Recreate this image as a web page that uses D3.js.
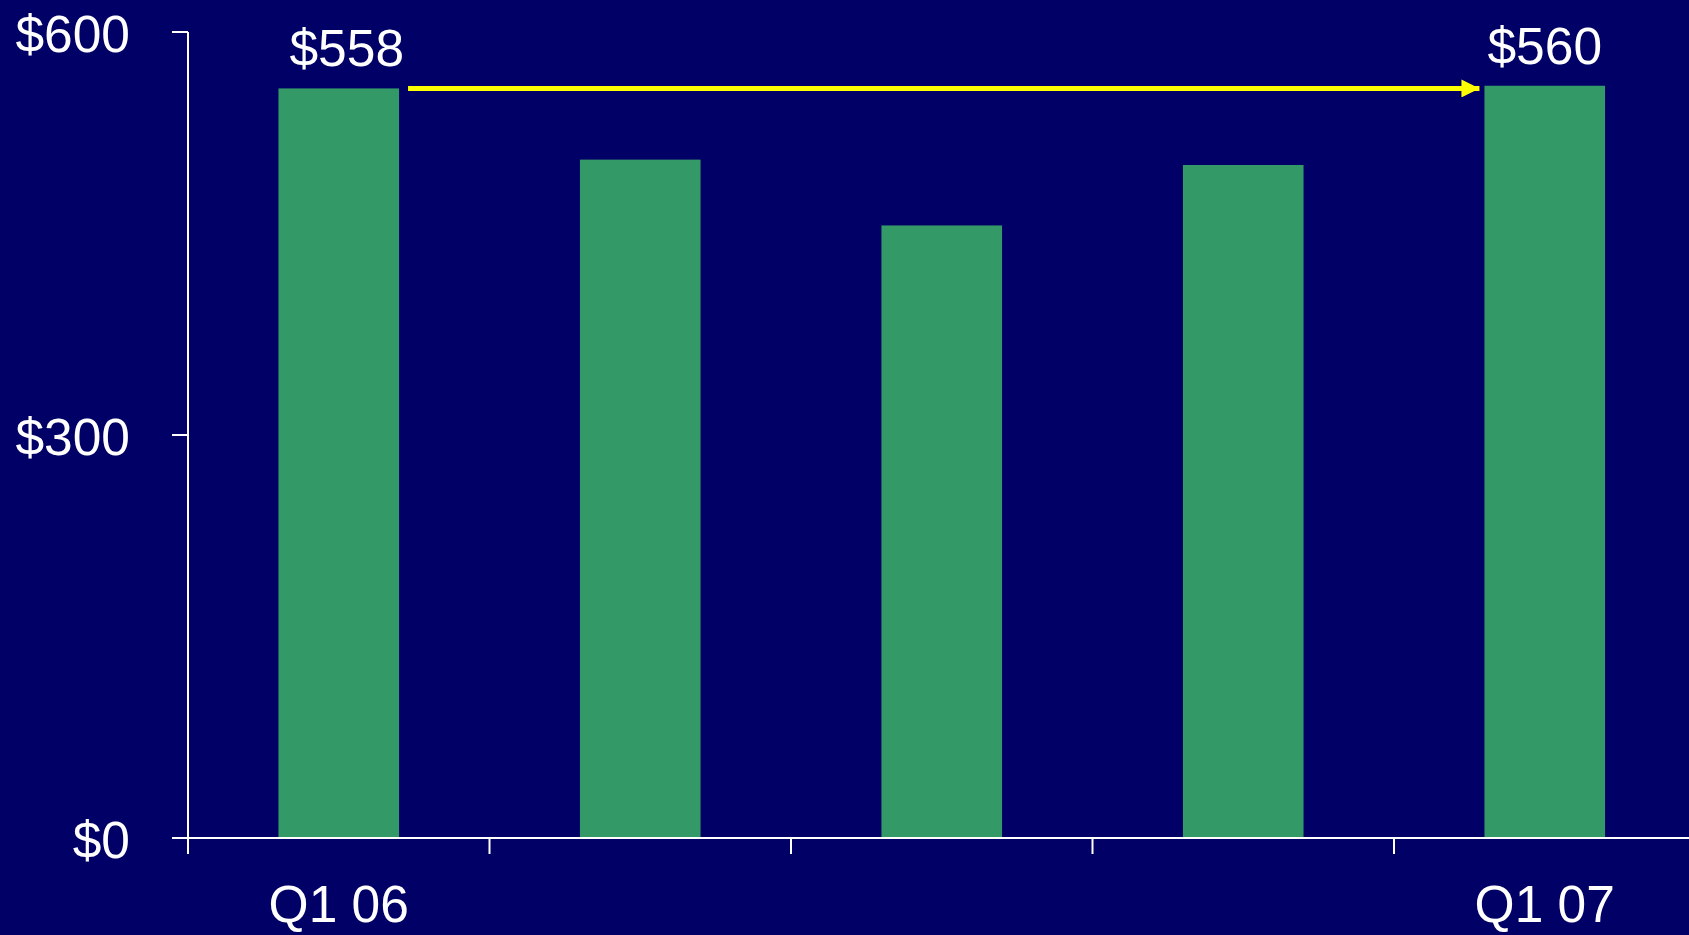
<!DOCTYPE html>
<html>
<head>
<meta charset="utf-8">
<script src="https://cdn.jsdelivr.net/npm/d3@7/dist/d3.min.js"></script>
<style>
  html, body { margin: 0; padding: 0; background: #000066; overflow: hidden; }
  svg { display: block; }
  text { font-family: "Liberation Sans", Arial, sans-serif; fill: #ffffff; }
</style>
</head>
<body>
<svg id="chart"></svg>
<script>
// Quarterly values, Q1 06 through Q1 07
const quarters = ["Q1 06", "Q2 06", "Q3 06", "Q4 06", "Q1 07"];
const quarterLabels = ["Q1 06", "", "", "", "Q1 07"];
const values = [558, 505, 456, 501, 560];
const valueLabels = ["$558", "", "", "", "$560"];
const yTicks = [0, 300, 600];
const yTickLabels = ["$0", "$300", "$600"];

const W = 1689, H = 935;
const plotLeft = 188, plotTop = 32, plotBottom = 838;
const step = 301.5;
const fontSize = 51.5;

const svg = d3.select("#chart").attr("width", W).attr("height", H);

const x = d3.scaleBand()
  .domain(quarters)
  .range([plotLeft, plotLeft + step * quarters.length])
  .paddingInner(0.6)
  .paddingOuter(0.3);

const y = d3.scaleLinear().domain([0, 600]).range([plotBottom, plotTop]);

// arrow marker
svg.append("defs").append("marker")
  .attr("id", "head")
  .attr("viewBox", "0 0 10 10")
  .attr("refX", 10).attr("refY", 5)
  .attr("markerUnits", "userSpaceOnUse")
  .attr("markerWidth", 18).attr("markerHeight", 18)
  .attr("orient", "auto")
  .append("path")
  .attr("d", "M0,0 L10,5 L0,10 Z")
  .attr("fill", "#ffff00");

// bars
svg.append("g").selectAll("rect")
  .data(values)
  .join("rect")
  .attr("x", (d, i) => x(quarters[i]))
  .attr("width", x.bandwidth())
  .attr("y", d => y(d))
  .attr("height", d => y(0) - y(d))
  .attr("fill", "#339966");

// y axis
const yAxis = svg.append("g");
yAxis.append("line")
  .attr("x1", plotLeft).attr("x2", plotLeft)
  .attr("y1", y(600)).attr("y2", plotBottom + 16)
  .attr("stroke", "#ffffff").attr("stroke-width", 2);
yAxis.selectAll("line.tick")
  .data(yTicks)
  .join("line")
  .attr("class", "tick")
  .attr("x1", plotLeft - 16).attr("x2", plotLeft)
  .attr("y1", d => y(d)).attr("y2", d => y(d))
  .attr("stroke", "#ffffff").attr("stroke-width", 2);
yAxis.selectAll("text")
  .data(yTicks)
  .join("text")
  .attr("x", 130)
  .attr("y", d => y(d) + 20)
  .attr("text-anchor", "end")
  .attr("font-size", fontSize)
  .text((d, i) => yTickLabels[i]);

// x axis
const xAxis = svg.append("g");
xAxis.append("line")
  .attr("x1", plotLeft - 16).attr("x2", W)
  .attr("y1", plotBottom).attr("y2", plotBottom)
  .attr("stroke", "#ffffff").attr("stroke-width", 2);
const gap = (x.step() - x.bandwidth()) / 2;
xAxis.selectAll("line.tick")
  .data(quarters.slice(1))
  .join("line")
  .attr("class", "tick")
  .attr("x1", d => x(d) - gap).attr("x2", d => x(d) - gap)
  .attr("y1", plotBottom).attr("y2", plotBottom + 16)
  .attr("stroke", "#ffffff").attr("stroke-width", 2);
xAxis.selectAll("text")
  .data(quarters)
  .join("text")
  .attr("x", d => x(d) + x.bandwidth() / 2)
  .attr("y", 922)
  .attr("text-anchor", "middle")
  .attr("font-size", fontSize)
  .text((d, i) => quarterLabels[i]);

// value labels
svg.append("g").selectAll("text")
  .data(values)
  .join("text")
  .attr("x", (d, i) => x(quarters[i]) + x.bandwidth() / 2 + (i === 0 ? 8 : 0))
  .attr("y", d => y(d) - 22)
  .attr("text-anchor", "middle")
  .attr("font-size", fontSize)
  .text((d, i) => valueLabels[i]);

// arrow from first to last quarter
const first = quarters[0], last = quarters[quarters.length - 1];
svg.append("line")
  .attr("x1", x(first) + x.bandwidth() + 9)
  .attr("x2", x(last) - 5)
  .attr("y1", y(values[0])).attr("y2", y(values[0]))
  .attr("stroke", "#ffff00").attr("stroke-width", 5)
  .attr("marker-end", "url(#head)");
</script>
</body>
</html>
